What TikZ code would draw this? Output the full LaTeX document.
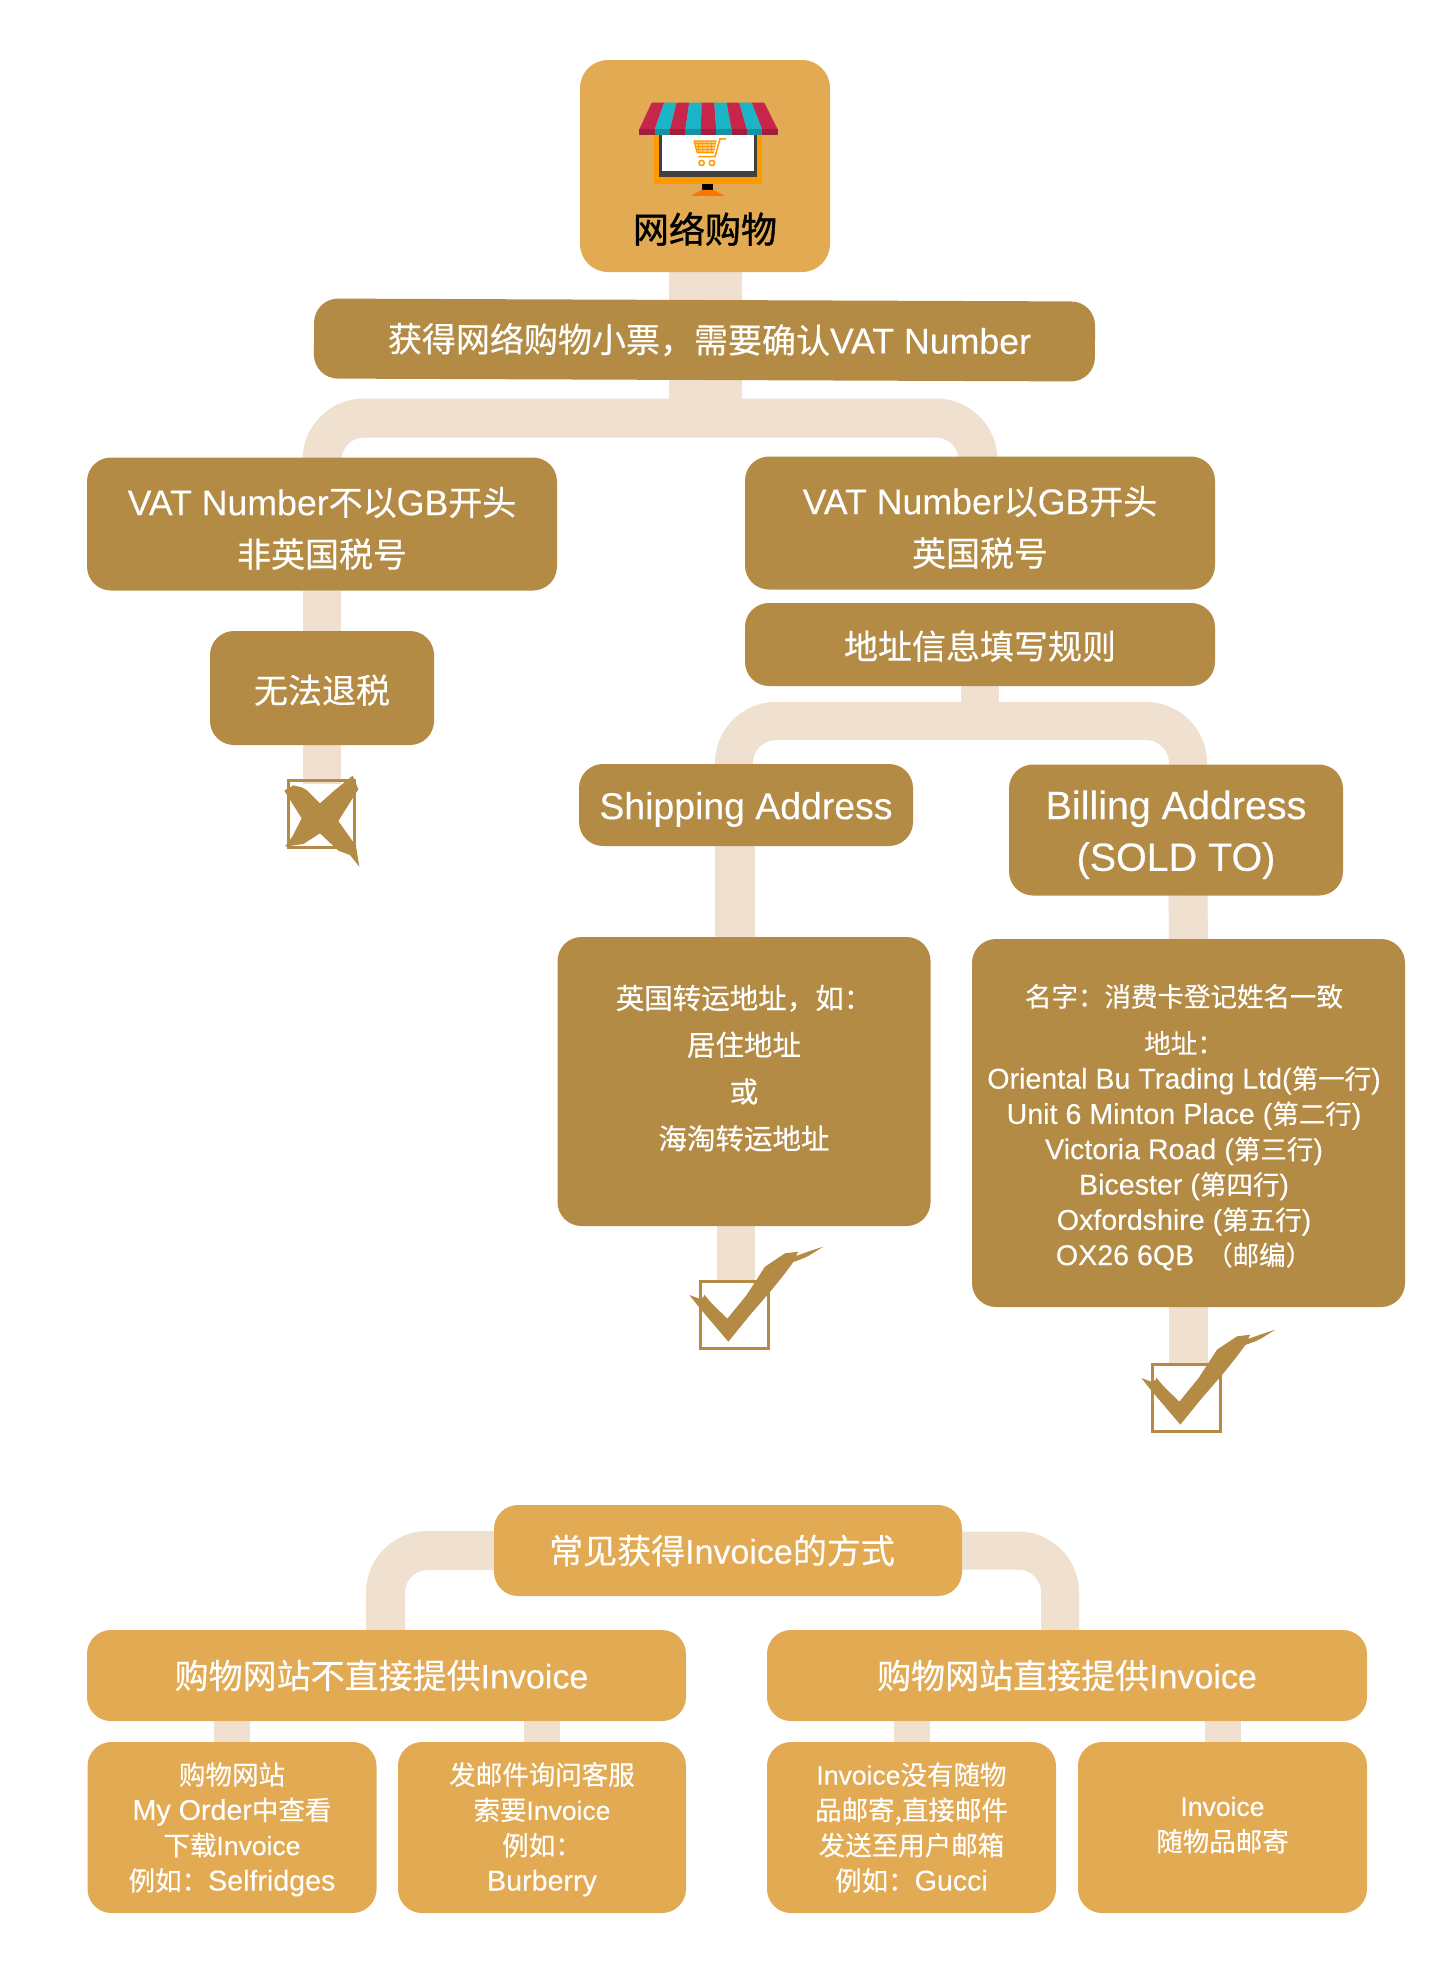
\documentclass[tikz,border=0pt]{standalone}
\usepackage{fontspec}
\setmainfont[FakeBold=0.4]{Noto Sans CJK SC}
\newfontfamily\titlefont[FakeBold=1.2]{Noto Sans CJK SC}
\newfontfamily\enfont[Scale=1.05,FakeBold=0.2]{Liberation Sans}
\newfontfamily\enfontwide[Scale=1.1,FakeBold=0.2]{Liberation Sans}
\newfontfamily\enfontbill[Scale=1.16,FakeBold=0.2]{Liberation Sans}
\newfontfamily\enfontsmall[Scale=1.08,FakeBold=0.2]{Liberation Sans}
\newfontfamily\enfontplain[FakeBold=0.2]{Liberation Sans}
\newcommand\en[1]{{\enfont #1}}
\newcommand\enw[1]{{\enfontwide #1}}
\newcommand\enb[1]{{\enfontbill #1}}
\newcommand\ens[1]{{\enfontsmall #1}}
\newcommand\enp[1]{{\enfontplain #1}}
\newcommand\dnrule[1]{\rule{0pt}{#1pt}}
\newcommand\uprule[1]{\rule[-#1pt]{0pt}{#1pt}}
\newcommand\lsh{\hbox to 9pt{}}
\usetikzlibrary{backgrounds}
\definecolor{darkgold}{HTML}{B48B44}
\definecolor{lightgold}{HTML}{E2AA53}
\definecolor{stem}{HTML}{EFE0D0}
\definecolor{awnred}{HTML}{C8254A}
\definecolor{awnteal}{HTML}{1CB5C8}
\definecolor{monorange}{HTML}{FF9900}
\tikzset{
  every node/.style={inner sep=0pt,outer sep=0pt,align=center},
  wh/.style 2 args={minimum width=#1pt,minimum height=#2pt},
  darkbox/.style={fill=darkgold,rounded corners=24pt,text=white},
  lightbox/.style={fill=lightgold,rounded corners=24pt,text=white},
  big/.style={font=\fontsize{34}{51.8}\selectfont},
  small/.style={font=\fontsize{26.5}{35.3}\selectfont},
  medium/.style={font=\fontsize{28.5}{35.3}\selectfont},
  conn/.style={draw=stem,line width=#1pt,rounded corners=42pt,line cap=butt},
  conn/.default=38,
  tickmark/.pic={
    \draw[darkgold,line width=3pt] (92,184) rectangle (295,386);
    \fill[darkgold] (58,225) -- (85,235) -- (100,232) -- (103,224) -- (125,250) -- (172,296) -- (230,225) -- (285,140) -- (345,100) -- (385,95) -- (378,108) -- (420,93) -- (460,80) -- (420,105) -- (400,115) -- (370,126) -- (345,160) -- (305,210) -- (240,285) -- (175,365) -- (90,265) -- cycle;
  },
  crossmark/.pic={
    \draw[darkgold,line width=3pt] (85,122) rectangle (283,322);
    \fill[darkgold] (73,152) -- (100,136) -- (125,142) -- (140,150) -- (180,190) -- (225,150) -- (278,107) -- (295,148) -- (235,243) -- (288,318) -- (298,380) -- (270,345) -- (235,332) -- (180,280) -- (130,312) -- (75,320) -- (98,288) -- (125,235) -- cycle;
  },
}
\begin{document}
\begin{tikzpicture}[x=1pt,y=-1pt]
\useasboundingbox (0,0) rectangle (1440,1982);
% nodes
\node[lightbox,wh={250}{212},rounded corners=28pt] (top) at (705,166) {};
\node[darkbox,wh={781}{80},big,rotate=-0.22] (bar) at (704.5,340) {\hspace*{10pt}获得网络购物小票，需要确认\en{VAT Number}};
\node[darkbox,wh={470}{133},big] (vatno) at (322,524) {\dnrule{37}\en{VAT Number}不以\en{GB}开头\\非英国税号};
\node[darkbox,wh={470}{133},big] (vatyes) at (980,523) {\dnrule{37}\en{VAT Number}以\en{GB}开头\\英国税号};
\node[darkbox,wh={470}{83},big] (rules) at (980,644.5) {\dnrule{32}地址信息填写规则};
\node[darkbox,wh={224}{114},big] (norefund) at (322,688) {\dnrule{33}无法退税};
\node[darkbox,wh={334}{82},big] (ship) at (746,805) {\dnrule{36}\enw{Shipping Address}};
\node[darkbox,wh={334}{131},big] (bill) at (1176,830) {\dnrule{38}\enb{Billing Address}\\\enb{(SOLD TO)}};
\node[darkbox,wh={373}{289},medium] (shipd) at (744,1081.5) {英国转运地址，如：\\[11.5pt]居住地址\\[11.5pt]或\\[11.5pt]海淘转运地址\uprule{29}};
\node[darkbox,wh={433}{368},small] (billd) at (1188.5,1123) {\dnrule{31}名字：消费卡登记姓名一致\lsh\\[11.5pt]地址：\lsh\\\ens{Oriental Bu Trading Ltd(}第一行\ens{)}\lsh\\\ens{Unit 6 Minton Place (}第二行\ens{)}\lsh\\\ens{Victoria Road (}第三行\ens{)}\lsh\\\ens{Bicester (}第四行\ens{)}\lsh\\\ens{Oxfordshire (}第五行\ens{)}\lsh\\\ens{OX26 6QB}\ \ （邮编）\lsh};
\node[lightbox,wh={468}{91},big] (inv) at (728,1550.5) {常见获得\enp{Invoice}的方式\hspace*{12pt}};
\node[lightbox,wh={599}{91},big] (invl) at (386.5,1675.5) {购物网站不直接提供\enp{Invoice}\hspace*{10pt}};
\node[lightbox,wh={600}{91},big] (invr) at (1067,1675.5) {购物网站直接提供\enp{Invoice}};
\node[lightbox,wh={289}{171},small] (s1) at (232,1827.5) {\dnrule{26}购物网站\\\ens{My Order}中查看\\下载\enp{Invoice}\\例如：\ens{Selfridges}};
\node[lightbox,wh={288}{171},small] (s2) at (542,1827.5) {\dnrule{26}发邮件询问客服\\索要\enp{Invoice}\\例如：\\\ens{Burberry}};
\node[lightbox,wh={289}{171},small] (s3) at (911.5,1827.5) {\enp{Invoice}没有随物\\品邮寄,直接邮件\\发送至用户邮箱\\例如：\ens{Gucci}};
\node[lightbox,wh={289}{171},small] (s4) at (1222.5,1827.5) {\enp{Invoice}\\随物品邮寄\uprule{7}};
% marks
\coordinate (xm) at (260,740);
\coordinate (ck1) at (670,1220);
\coordinate (ck2) at (1122,1303);
\coordinate (xtop) at (322,784);
\coordinate (c1top) at (736,1283);
\coordinate (c2top) at (1188,1365);
\coordinate (j1) at (704,418);
\coordinate (j2) at (980,721);
\pic[x=0.3333pt,y=-0.3333pt] at (xm) {crossmark};
\pic[x=0.3333pt,y=-0.3333pt] at (ck1) {tickmark};
\pic[x=0.3333pt,y=-0.3333pt] at (ck2) {tickmark};
% connectors
\begin{scope}[on background layer]
\fill[white] (0,0) rectangle (1440,1982);
\draw[conn=73] (top.south) -- ([yshift=-0.5pt]top.south |- bar.north);
\draw[conn=73] (top.south |- bar.south) -- ([yshift=-19pt]top.south |- j1);
\draw[conn=39] ([xshift=0pt]vatno.north) |- (j1) -| ([xshift=-2pt]vatyes.north);
\draw[conn=38] (vatno.south) -- (norefund.north);
\draw[conn=38] (norefund.south) -- (xtop);
\draw[conn=38] (rules.south) -- (j2);
\draw[conn=38] ([xshift=-12pt]ship.north) |- (j2) -| ([xshift=12pt]bill.north);
\draw[conn=40] ([xshift=-11pt]ship.south) -- ([xshift=-9pt]shipd.north);
\draw[conn=39] ([xshift=12pt]bill.south) -- (billd.north);
\draw[conn=38] (shipd.south -| c1top) -- (c1top);
\draw[conn=39] (billd.south -| c2top) -- (c2top);
\draw[conn=39] (inv.west) -| ([xshift=-1pt]invl.north);
\draw[conn=38] (inv.east) -| ([xshift=-7pt]invr.north);
\draw[conn=36] (s1.north |- invl.south) -- (s1.north);
\draw[conn=36] (s2.north |- invl.south) -- (s2.north);
\draw[conn=36] (s3.north |- invr.south) -- (s3.north);
\draw[conn=36] (s4.north |- invr.south) -- (s4.north);
\end{scope}
% shop icon
\begin{scope}[shift={(top.center)},shift={(-145,-126)},x=0.3333pt,y=-0.3333pt]
\fill[monorange] (282,285) rectangle (605,432);
\fill[black!75] (296,285) rectangle (590,410);
\fill[white] (305,285) rectangle (582,394);
\fill[black] (425,432) rectangle (460,450);
\fill[orange!90!red] (392,468) -- (425,450) -- (460,450) -- (495,468) -- cycle;
\foreach \i in {0,...,8}{
  \pgfmathsetmacro\ta{275+\i*37.55}\pgfmathsetmacro\tb{275+(\i+1)*37.55}
  \pgfmathsetmacro\ba{238+\i*46.11}\pgfmathsetmacro\bb{238+(\i+1)*46.11}
  \pgfmathparse{int(mod(\i,2))}
  \ifnum\pgfmathresult=0\def\cc{awnred}\else\def\cc{awnteal}\fi
  \fill[\cc] (\ta,188) -- (\tb,188) -- (\bb,268) -- (\ba,268) -- cycle;
  \fill[\cc!80!black] (\ba,268) rectangle (\bb,285);
}
\fill[monorange!55] (402,303) -- (470,303) -- (462,338) -- (412,338) -- cycle;
\draw[monorange,line width=1pt] (404,312) -- (468,312) (406,321) -- (466,321) (409,330) -- (464,330);
\foreach \k in {415,428,441,454}{\draw[monorange,line width=.7pt] (\k,303) -- (\k+1,338);}
\draw[monorange,line width=1.3pt] (402,303) -- (470,303) (402,303) -- (412,338) -- (462,338);
\draw[monorange,line width=1.5pt] (498,297) -- (480,297) -- (465,350) -- (415,350);
\draw[monorange,line width=1.5pt] (425,369) circle (8) (456,369) circle (8);
\end{scope}
\node[font=\titlefont\fontsize{36}{40}\selectfont,text=black] (title) at (705,229) {网络购物};
\end{tikzpicture}
\end{document}
